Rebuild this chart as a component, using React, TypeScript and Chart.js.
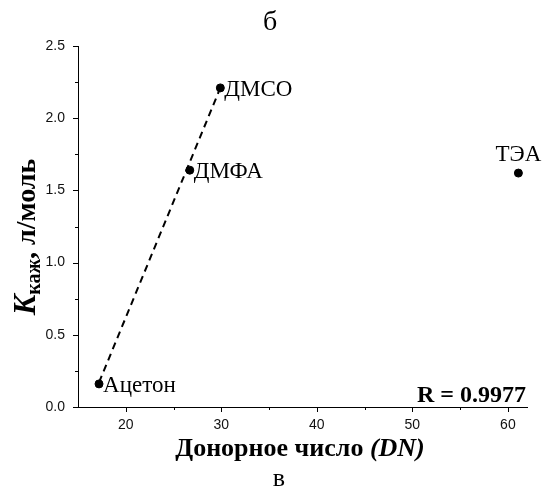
import React, { useEffect, useRef } from "react";
import { Chart, registerables } from "chart.js";

Chart.register(...registerables);

// Donor number (DN) of each solvent
const donorNumbers = [17.2, 26.7, 29.9, 61.1];
// Apparent constant K, л/моль
const kValues = [0.16, 1.64, 2.21, 1.62];
const solventNames = ["Ацетон", "ДМФА", "ДМСО", "ТЭА"];
// Dashed fitted line (ends)
const fitDn = [17.2, 29.9];
const fitK = [0.17, 2.21];
const xTickMajor = [20, 30, 40, 50, 60];
const yTickMajor = [0, 0.5, 1.0, 1.5, 2.0, 2.5];
const rText = "R = 0.9977";
const topLetter = "б";
const bottomLetter = "в";

const SERIF = '"Liberation Serif", "Times New Roman", serif';
const SANS = '"Liberation Sans", Arial, sans-serif';

const annotations = {
  id: "annotations",
  afterDraw(chart: any) {
    const ctx = chart.ctx;
    const xs = chart.scales.x;
    const ys = chart.scales.y;
    const area = chart.chartArea;
    ctx.save();
    ctx.fillStyle = "#000";
    ctx.strokeStyle = "#000";
    ctx.lineWidth = 1;

    // tick marks (outward)
    xs.ticks.forEach((t: any) => {
      const v = t.value;
      if (v <= xs.min + 1e-9) return;
      const major = Math.abs(v % 10) < 1e-6;
      const px = Math.round(xs.getPixelForValue(v)) + 0.5;
      ctx.beginPath();
      ctx.moveTo(px, area.bottom);
      ctx.lineTo(px, area.bottom + (major ? 5 : 3));
      ctx.stroke();
    });
    ys.ticks.forEach((t: any) => {
      const v = t.value;
      const major = Math.abs(v * 2 - Math.round(v * 2)) < 1e-6;
      const py = Math.round(ys.getPixelForValue(v)) + 0.5;
      ctx.beginPath();
      ctx.moveTo(area.left, py);
      ctx.lineTo(area.left - (major ? 5 : 3), py);
      ctx.stroke();
    });

    // point labels
    ctx.font = `23px ${SERIF}`;
    ctx.textBaseline = "middle";
    solventNames.forEach((name, i) => {
      const px = xs.getPixelForValue(donorNumbers[i]);
      const py = ys.getPixelForValue(kValues[i]);
      if (i === 3) {
        ctx.textAlign = "center";
        ctx.textBaseline = "alphabetic";
        ctx.fillText(name, px, py - 12);
        ctx.textBaseline = "middle";
      } else {
        ctx.textAlign = "left";
        ctx.fillText(name, px + 4, py + 2);
      }
    });

    // R value
    ctx.font = `bold 24px ${SERIF}`;
    ctx.textAlign = "right";
    ctx.textBaseline = "alphabetic";
    ctx.fillText(rText, area.right - 1, 402);

    // top & bottom letters
    ctx.font = `28px ${SERIF}`;
    ctx.textAlign = "center";
    ctx.fillText(topLetter, 270, 30);
    ctx.font = `26px ${SERIF}`;
    ctx.fillText(bottomLetter, 279, 486);

    // x title: "Донорное число (DN)"
    const part1 = "Донорное число ";
    const part2 = "(DN)";
    const f1 = `bold 26px ${SERIF}`;
    const f2 = `italic bold 26px ${SERIF}`;
    ctx.font = f1;
    const w1 = ctx.measureText(part1).width;
    ctx.font = f2;
    const w2 = ctx.measureText(part2).width;
    const sx = 300 - (w1 + w2) / 2;
    ctx.textAlign = "left";
    ctx.font = f1;
    ctx.fillText(part1, sx, 456);
    ctx.font = f2;
    ctx.fillText(part2, sx + w1, 456);

    // y title: K_каж, л/моль (rotated)
    const fK = `italic bold 31px ${SERIF}`;
    const fSub = `bold 20px ${SERIF}`;
    const fRest = `bold 28px ${SERIF}`;
    ctx.font = fK;
    const wK = ctx.measureText("K").width;
    ctx.font = fSub;
    const wSub = ctx.measureText("каж").width;
    ctx.font = fRest;
    const wRest = ctx.measureText(", л/моль").width;
    const total = wK + wSub + wRest;
    ctx.translate(35, 237);
    ctx.rotate(-Math.PI / 2);
    let cx = -total / 2;
    ctx.font = fK;
    ctx.fillText("K", cx, 0);
    cx += wK;
    ctx.font = fSub;
    ctx.fillText("каж", cx, 5);
    cx += wSub;
    ctx.font = fRest;
    ctx.fillText(", л/моль", cx, 0);
    ctx.restore();
  },
};

export default function App() {
  const ref = useRef<HTMLCanvasElement | null>(null);
  useEffect(() => {
    if (!ref.current) return;
    const chart = new Chart(ref.current, {
      type: "scatter",
      data: {
        datasets: [
          {
            label: "fit",
            data: fitDn.map((x, i) => ({ x, y: fitK[i] })),
            showLine: true,
            borderColor: "#000",
            borderWidth: 2,
            borderDash: [7, 5],
            pointRadius: 0,
            fill: false,
          },
          {
            label: "points",
            data: donorNumbers.map((x, i) => ({ x, y: kValues[i] })),
            backgroundColor: "#000",
            borderColor: "#000",
            pointRadius: 4,
            showLine: false,
          },
        ],
      },
      options: {
        animation: false,
        responsive: false,
        devicePixelRatio: 1,
        layout: { padding: { top: 46, right: 15, left: 0, bottom: 0 } },
        plugins: {
          legend: { display: false },
          tooltip: { enabled: false },
          title: { display: false },
        },
        scales: {
          x: {
            type: "linear",
            min: 15,
            max: 62,
            afterFit: (s: any) => {
              s.height = 79;
            },
            border: { display: true, color: "#000", width: 1 },
            grid: {
              display: true,
              drawOnChartArea: false,
              drawTicks: true,
              tickLength: 5,
              tickColor: "rgba(0,0,0,0)",
            },
            ticks: {
              stepSize: 5,
              includeBounds: false,
              autoSkip: false,
              maxRotation: 0,
              padding: 5,
              color: "#111",
              font: { family: SANS, size: 14 },
              callback: (v: any) =>
                xTickMajor.includes(Number(v)) ? String(v) : "",
            },
          },
          y: {
            type: "linear",
            min: 0,
            max: 2.5,
            afterFit: (s: any) => {
              s.width = 78;
            },
            border: { display: true, color: "#000", width: 1 },
            grid: {
              display: true,
              drawOnChartArea: false,
              drawTicks: true,
              tickLength: 5,
              tickColor: "rgba(0,0,0,0)",
            },
            ticks: {
              stepSize: 0.25,
              autoSkip: false,
              padding: 8,
              color: "#111",
              font: { family: SANS, size: 14 },
              callback: (v: any) => {
                const n = Number(v);
                return yTickMajor.some((m) => Math.abs(m - n) < 1e-6)
                  ? n.toFixed(1)
                  : "";
              },
            },
          },
        },
      },
      plugins: [annotations],
    });
    return () => chart.destroy();
  }, []);
  return (
    <div style={{ position: "absolute", left: 0, top: 0, width: 542, height: 486, background: "#fff" }}>
      <canvas ref={ref} width={542} height={486} style={{ width: 542, height: 486 }} />
    </div>
  );
}
